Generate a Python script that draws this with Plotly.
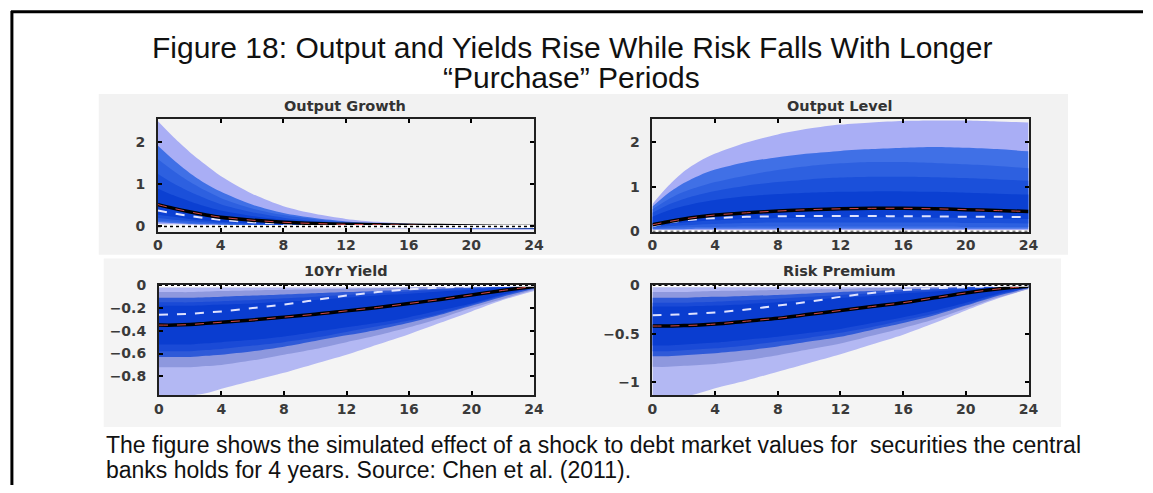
import plotly.graph_objects as go

W, H = 1153, 493

quarters = [0, 1, 2, 3, 4, 6, 8, 10, 12, 14, 16, 18, 20, 22, 24]

# ---------------- Output Growth ----------------
og_b1_hi = [2.50, 2.12, 1.78, 1.48, 1.20, 0.78, 0.48, 0.30, 0.18, 0.11, 0.07, 0.05, 0.04, 0.03, 0.03]
og_b1_lo = [0.06, 0.05, 0.04, 0.03, 0.02, 0.00, -0.01, -0.02, -0.03, -0.04, -0.05, -0.06, -0.07, -0.07, -0.08]
og_b2_hi = [1.92, 1.58, 1.28, 1.03, 0.83, 0.52, 0.32, 0.20, 0.12, 0.08, 0.05, 0.04, 0.03, 0.02, 0.02]
og_b2_lo = [0.10, 0.08, 0.06, 0.05, 0.04, 0.02, 0.01, 0.00, -0.01, -0.02, -0.03, -0.04, -0.05, -0.05, -0.06]
og_b3_hi = [1.60, 1.32, 1.07, 0.86, 0.68, 0.43, 0.27, 0.17, 0.10, 0.07, 0.04, 0.03, 0.02, 0.02, 0.01]
og_b3_lo = [0.14, 0.11, 0.09, 0.07, 0.06, 0.04, 0.02, 0.01, 0.00, -0.01, -0.02, -0.03, -0.04, -0.04, -0.05]
og_b4_hi = [1.25, 1.02, 0.83, 0.67, 0.53, 0.34, 0.21, 0.13, 0.08, 0.05, 0.03, 0.02, 0.01, 0.01, 0.01]
og_b4_lo = [0.20, 0.16, 0.13, 0.10, 0.08, 0.05, 0.03, 0.02, 0.01, 0.00, -0.01, -0.02, -0.03, -0.03, -0.04]
og_b5_hi = [0.90, 0.74, 0.60, 0.48, 0.38, 0.25, 0.16, 0.10, 0.06, 0.04, 0.03, 0.02, 0.01, 0.01, 0.00]
og_b5_lo = [0.28, 0.23, 0.18, 0.14, 0.11, 0.07, 0.04, 0.03, 0.02, 0.01, 0.00, -0.01, -0.02, -0.02, -0.03]
og_median = [0.52, 0.43, 0.35, 0.28, 0.22, 0.15, 0.10, 0.07, 0.05, 0.04, 0.03, 0.02, 0.01, 0.00, 0.00]
og_alt = [0.38, 0.31, 0.25, 0.20, 0.16, 0.10, 0.07, 0.05, 0.04, 0.03, 0.02, 0.01, 0.01, 0.00, 0.00]

# ---------------- Output Level ----------------
ol_b1_hi = [0.62, 1.02, 1.35, 1.58, 1.75, 2.00, 2.18, 2.31, 2.40, 2.45, 2.48, 2.49, 2.49, 2.47, 2.45]
ol_b1_lo = [0.03, 0.02, 0.02, 0.02, 0.02, 0.02, 0.02, 0.02, 0.02, 0.02, 0.02, 0.02, 0.02, 0.02, 0.02]
ol_b2_hi = [0.56, 0.86, 1.09, 1.26, 1.39, 1.56, 1.67, 1.75, 1.81, 1.85, 1.88, 1.90, 1.88, 1.85, 1.80]
ol_b2_lo = [0.05, 0.05, 0.05, 0.06, 0.06, 0.06, 0.06, 0.06, 0.06, 0.06, 0.06, 0.06, 0.06, 0.06, 0.06]
ol_b3_hi = [0.50, 0.72, 0.89, 1.01, 1.11, 1.26, 1.38, 1.47, 1.53, 1.56, 1.56, 1.54, 1.51, 1.47, 1.42]
ol_b3_lo = [0.07, 0.08, 0.09, 0.10, 0.10, 0.11, 0.11, 0.11, 0.11, 0.11, 0.11, 0.11, 0.10, 0.10, 0.10]
ol_b4_hi = [0.42, 0.60, 0.73, 0.83, 0.91, 1.03, 1.11, 1.17, 1.21, 1.23, 1.23, 1.22, 1.20, 1.17, 1.14]
ol_b4_lo = [0.10, 0.12, 0.14, 0.16, 0.17, 0.19, 0.20, 0.20, 0.20, 0.20, 0.20, 0.20, 0.19, 0.19, 0.18]
ol_b5_hi = [0.33, 0.47, 0.57, 0.65, 0.71, 0.79, 0.84, 0.87, 0.89, 0.90, 0.90, 0.89, 0.87, 0.85, 0.83]
ol_b5_lo = [0.12, 0.16, 0.20, 0.23, 0.25, 0.28, 0.30, 0.31, 0.32, 0.32, 0.32, 0.31, 0.30, 0.29, 0.28]
ol_median = [0.15, 0.22, 0.28, 0.33, 0.37, 0.42, 0.46, 0.49, 0.51, 0.52, 0.52, 0.51, 0.49, 0.47, 0.45]
ol_alt = [0.12, 0.20, 0.25, 0.28, 0.30, 0.33, 0.34, 0.35, 0.35, 0.35, 0.34, 0.34, 0.33, 0.33, 0.32]

# ---------------- 10Yr Yield ----------------
yd_b1_hi = [-0.02, -0.02, -0.02, -0.02, -0.02, -0.02, -0.02, -0.02, -0.02, -0.02, -0.02, -0.02, -0.01, -0.01, 0.00]
yd_b1_lo = [-1.00, -0.99, -0.97, -0.95, -0.91, -0.84, -0.77, -0.69, -0.61, -0.52, -0.43, -0.33, -0.23, -0.13, -0.05]
yd_b2_hi = [-0.06, -0.06, -0.06, -0.055, -0.05, -0.045, -0.04, -0.035, -0.03, -0.025, -0.02, -0.015, -0.01, -0.005, 0.00]
yd_b2_lo = [-0.72, -0.72, -0.72, -0.71, -0.70, -0.66, -0.61, -0.56, -0.50, -0.44, -0.37, -0.29, -0.20, -0.12, -0.04]
yd_b3_hi = [-0.11, -0.11, -0.11, -0.105, -0.10, -0.09, -0.08, -0.07, -0.06, -0.05, -0.04, -0.03, -0.02, -0.01, 0.00]
yd_b3_lo = [-0.63, -0.63, -0.63, -0.62, -0.61, -0.58, -0.54, -0.49, -0.44, -0.39, -0.33, -0.26, -0.18, -0.10, -0.03]
yd_b4_hi = [-0.15, -0.15, -0.15, -0.145, -0.14, -0.13, -0.115, -0.10, -0.085, -0.07, -0.055, -0.04, -0.03, -0.015, 0.00]
yd_b4_lo = [-0.58, -0.58, -0.58, -0.57, -0.56, -0.53, -0.50, -0.46, -0.41, -0.36, -0.31, -0.25, -0.17, -0.09, -0.02]
yd_b5_hi = [-0.18, -0.18, -0.18, -0.175, -0.17, -0.16, -0.145, -0.13, -0.11, -0.09, -0.075, -0.055, -0.04, -0.02, -0.005]
yd_b5_lo = [-0.52, -0.52, -0.52, -0.51, -0.50, -0.48, -0.45, -0.41, -0.37, -0.33, -0.28, -0.22, -0.16, -0.08, -0.02]
yd_median = [-0.35, -0.35, -0.345, -0.335, -0.325, -0.305, -0.28, -0.255, -0.225, -0.195, -0.16, -0.125, -0.085, -0.045, -0.01]
yd_alt = [-0.26, -0.255, -0.25, -0.24, -0.23, -0.20, -0.17, -0.13, -0.09, -0.06, -0.035, -0.02, -0.01, -0.005, 0.00]

# ---------------- Risk Premium ----------------
rp_b1_hi = [-0.02, -0.02, -0.02, -0.02, -0.02, -0.02, -0.02, -0.02, -0.02, -0.02, -0.02, -0.02, -0.01, -0.01, 0.00]
rp_b1_lo = [-1.20, -1.18, -1.15, -1.11, -1.06, -0.98, -0.89, -0.80, -0.71, -0.61, -0.51, -0.39, -0.26, -0.14, -0.04]
rp_b2_hi = [-0.07, -0.07, -0.07, -0.065, -0.06, -0.055, -0.05, -0.045, -0.04, -0.03, -0.025, -0.02, -0.01, -0.005, 0.00]
rp_b2_lo = [-0.84, -0.84, -0.83, -0.82, -0.81, -0.77, -0.72, -0.66, -0.60, -0.52, -0.44, -0.35, -0.24, -0.13, -0.04]
rp_b3_hi = [-0.13, -0.13, -0.13, -0.125, -0.12, -0.11, -0.10, -0.085, -0.07, -0.06, -0.045, -0.035, -0.02, -0.01, 0.00]
rp_b3_lo = [-0.73, -0.73, -0.72, -0.71, -0.70, -0.67, -0.63, -0.58, -0.53, -0.46, -0.39, -0.31, -0.21, -0.11, -0.03]
rp_b4_hi = [-0.18, -0.18, -0.18, -0.175, -0.17, -0.155, -0.14, -0.12, -0.10, -0.085, -0.065, -0.05, -0.03, -0.015, 0.00]
rp_b4_lo = [-0.68, -0.68, -0.67, -0.66, -0.65, -0.62, -0.58, -0.54, -0.49, -0.43, -0.36, -0.29, -0.20, -0.10, -0.03]
rp_b5_hi = [-0.22, -0.22, -0.22, -0.215, -0.21, -0.195, -0.175, -0.155, -0.13, -0.11, -0.085, -0.065, -0.045, -0.025, -0.005]
rp_b5_lo = [-0.62, -0.62, -0.61, -0.60, -0.59, -0.56, -0.53, -0.49, -0.45, -0.39, -0.33, -0.26, -0.18, -0.09, -0.02]
rp_median = [-0.42, -0.42, -0.415, -0.41, -0.40, -0.37, -0.34, -0.30, -0.26, -0.22, -0.18, -0.13, -0.08, -0.04, -0.01]
rp_alt = [-0.31, -0.305, -0.30, -0.29, -0.28, -0.25, -0.21, -0.17, -0.12, -0.08, -0.05, -0.03, -0.02, -0.01, 0.00]

# tick labels
x_ticks = [0, 4, 8, 12, 16, 20, 24]
og_yticks = [0, 1, 2]
ol_yticks = [0, 1, 2]
yd_yticks = [0, -0.2, -0.4, -0.6, -0.8]
yd_yticktext = ["0", "\u22120.2", "\u22120.4", "\u22120.6", "\u22120.8"]
rp_yticks = [0, -0.5, -1]
rp_yticktext = ["0", "\u22120.5", "\u22121"]

panel_titles = ["Output Growth", "Output Level", "10Yr Yield", "Risk Premium"]
title_line1 = "Figure 18: Output and Yields Rise While Risk Falls With Longer"
title_line2 = "\u201cPurchase\u201d Periods"
caption_line1 = "The figure shows the simulated effect of a shock to debt market values for  securities the central"
caption_line2 = "banks holds for 4 years. Source: Chen et al. (2011)."

# --------------- styling / layout ---------------
top_palette = ["#a9aef5", "#4070e6", "#2d60e0", "#1b50da", "#0b40d2"]
bot_palette = ["#b3b8f3", "#8e98de", "#2f5ad8", "#1a4ad6", "#0a3dd0"]

def px_x(p):
    return p / W

def px_y(p):
    return 1 - p / H

panels = [
    dict(bands=[(og_b1_lo, og_b1_hi), (og_b2_lo, og_b2_hi), (og_b3_lo, og_b3_hi), (og_b4_lo, og_b4_hi), (og_b5_lo, og_b5_hi)],
         median=og_median, alt=og_alt, pal=top_palette,
         box=(155, 536, 115, 231), yrange=[-0.12, 2.55], yt=og_yticks, ytt=[str(v) for v in og_yticks]),
    dict(bands=[(ol_b1_lo, ol_b1_hi), (ol_b2_lo, ol_b2_hi), (ol_b3_lo, ol_b3_hi), (ol_b4_lo, ol_b4_hi), (ol_b5_lo, ol_b5_hi)],
         median=ol_median, alt=ol_alt, pal=top_palette,
         box=(656, 1037, 115, 231), yrange=[0, 2.52], yt=ol_yticks, ytt=[str(v) for v in ol_yticks]),
    dict(bands=[(yd_b1_lo, yd_b1_hi), (yd_b2_lo, yd_b2_hi), (yd_b3_lo, yd_b3_hi), (yd_b4_lo, yd_b4_hi), (yd_b5_lo, yd_b5_hi)],
         median=yd_median, alt=yd_alt, pal=bot_palette,
         box=(156, 536, 286, 400), yrange=[-0.965, 0.005], yt=yd_yticks, ytt=yd_yticktext),
    dict(bands=[(rp_b1_lo, rp_b1_hi), (rp_b2_lo, rp_b2_hi), (rp_b3_lo, rp_b3_hi), (rp_b4_lo, rp_b4_hi), (rp_b5_lo, rp_b5_hi)],
         median=rp_median, alt=rp_alt, pal=bot_palette,
         box=(656, 1037, 286, 400), yrange=[-1.13, 0.005], yt=rp_yticks, ytt=rp_yticktext),
]

fig = go.Figure()
layout_axes = {}
shapes = []
annotations = []

TICKFONT = dict(family="DejaVu Sans", size=14, color="#3a3a3a", weight="bold")

for i, p in enumerate(panels):
    n = "" if i == 0 else str(i + 1)
    xa, ya = "x" + n, "y" + n
    for k, (lo, hi) in enumerate(p["bands"]):
        fig.add_trace(go.Scatter(x=quarters, y=lo, mode="lines", line=dict(width=0, shape="spline", smoothing=0.8),
                                 xaxis=xa, yaxis=ya, showlegend=False, hoverinfo="skip"))
        fig.add_trace(go.Scatter(x=quarters, y=hi, mode="lines", line=dict(width=0, shape="spline", smoothing=0.8),
                                 fill="tonexty", fillcolor=p["pal"][k],
                                 xaxis=xa, yaxis=ya, showlegend=False, hoverinfo="skip"))
    fig.add_trace(go.Scatter(x=quarters, y=p["alt"], mode="lines",
                             line=dict(color="#dfe2ff", width=2, dash="dash", shape="spline"),
                             xaxis=xa, yaxis=ya, showlegend=False, hoverinfo="skip"))
    fig.add_trace(go.Scatter(x=quarters, y=p["median"], mode="lines",
                             line=dict(color="#00d0e0", width=1.2, shape="spline"),
                             xaxis=xa, yaxis=ya, showlegend=False, hoverinfo="skip"))
    fig.add_trace(go.Scatter(x=quarters, y=p["median"], mode="lines",
                             line=dict(color="black", width=3.5, shape="spline"),
                             xaxis=xa, yaxis=ya, showlegend=False, hoverinfo="skip"))
    fig.add_trace(go.Scatter(x=quarters, y=p["median"], mode="lines",
                             line=dict(color="#d04848", width=1, dash="dash", shape="spline"),
                             xaxis=xa, yaxis=ya, showlegend=False, hoverinfo="skip"))
    # zero line
    fig.add_trace(go.Scatter(x=[0, 24], y=[0, 0], mode="lines", line=dict(color="white", width=3),
                             xaxis=xa, yaxis=ya, showlegend=False, hoverinfo="skip"))
    fig.add_trace(go.Scatter(x=[0, 24], y=[0, 0], mode="lines", line=dict(color="black", width=1.5, dash="dot"),
                             xaxis=xa, yaxis=ya, showlegend=False, hoverinfo="skip"))

    x0, x1, y0, y1 = p["box"]
    layout_axes["xaxis" + n] = dict(
        domain=[px_x(x0), px_x(x1)], range=[0, 24], anchor=ya,
        tickvals=x_ticks, ticks="inside", ticklen=4, tickwidth=1.5, tickcolor="black",
        showline=True, linecolor="#202020", linewidth=2, mirror="ticks",
        showgrid=False, zeroline=False, tickfont=TICKFONT, ticklabelstandoff=0, fixedrange=True)
    layout_axes["yaxis" + n] = dict(
        domain=[px_y(y1), px_y(y0)], range=p["yrange"], anchor=xa,
        tickvals=p["yt"], ticktext=p["ytt"], ticks="inside", ticklen=4, tickwidth=1.5, tickcolor="black",
        showline=True, linecolor="#202020", linewidth=2, mirror="ticks",
        showgrid=False, zeroline=False, tickfont=TICKFONT, ticklabelstandoff=8, fixedrange=True)
    annotations.append(dict(text=panel_titles[i], x=px_x((x0 + x1) / 2 - 1), y=px_y(y0 - 14), xref="paper", yref="paper",
                            showarrow=False, xanchor="center", yanchor="middle",
                            font=dict(family="DejaVu Sans", size=14.5, color="#333333", weight="bold")))

# grey backgrounds for the panel rows
shapes.append(dict(type="rect", xref="paper", yref="paper", x0=px_x(95), x1=px_x(1077), y0=px_y(255), y1=px_y(89),
                   fillcolor="#f2f2f2", line=dict(width=0), layer="below"))
shapes.append(dict(type="rect", xref="paper", yref="paper", x0=px_x(100), x1=px_x(1070), y0=px_y(433), y1=px_y(259),
                   fillcolor="#f4f4f4", line=dict(width=0), layer="below"))
# page border
shapes.append(dict(type="line", xref="paper", yref="paper", x0=px_x(7), x1=px_x(7), y0=0, y1=px_y(3),
                   line=dict(color="black", width=3)))
shapes.append(dict(type="line", xref="paper", yref="paper", x0=px_x(6), x1=1, y0=px_y(4), y1=px_y(4),
                   line=dict(color="black", width=3)))

TFONT = dict(family="Liberation Sans", size=30, color="#111111")
annotations.append(dict(text=title_line1, x=px_x(574), y=px_y(41), xref="paper", yref="paper", showarrow=False,
                        xanchor="center", yanchor="middle", font=TFONT))
annotations.append(dict(text=title_line2, x=px_x(574), y=px_y(72), xref="paper", yref="paper", showarrow=False,
                        xanchor="center", yanchor="middle", font=TFONT))
CFONT = dict(family="Liberation Sans", size=23, color="#111111")
annotations.append(dict(text=caption_line1, x=px_x(100), y=px_y(452), xref="paper", yref="paper", showarrow=False,
                        xanchor="left", yanchor="middle", font=CFONT))
annotations.append(dict(text=caption_line2, x=px_x(100), y=px_y(478), xref="paper", yref="paper", showarrow=False,
                        xanchor="left", yanchor="middle", font=CFONT))

fig.update_layout(width=W, height=H, margin=dict(l=0, r=0, t=0, b=0),
                  paper_bgcolor="white", plot_bgcolor="white",
                  shapes=shapes, annotations=annotations, showlegend=False, **layout_axes)

fig.write_html("out.html", config={"displayModeBar": False},
               post_script="document.body.style.margin='0';document.body.style.overflow='hidden';")
